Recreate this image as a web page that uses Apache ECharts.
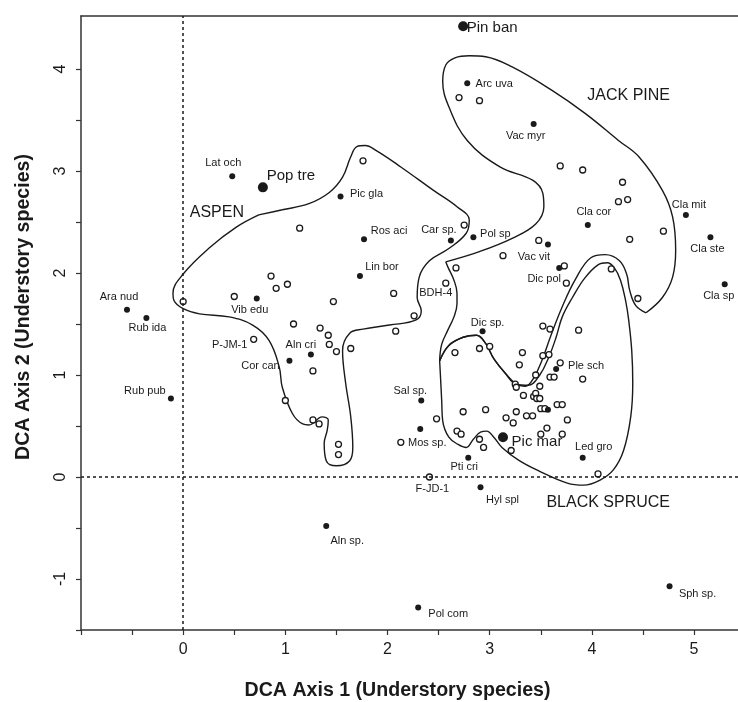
<!DOCTYPE html>
<html><head><meta charset="utf-8">
<script src="https://cdn.jsdelivr.net/npm/echarts@6/dist/echarts.min.js"></script>
<style>html,body{margin:0;padding:0;background:#fff}#c{width:738px;height:702px}</style>
</head><body><div id="c"></div>
<script>
// ---------- data ----------
const treeSpecies = [
  [2.74, 4.42, 'Pin ban'],
  [0.78, 2.84, 'Pop tre'],
  [3.13, 0.39, 'Pic mar']
];
const understorySpecies = [
  [-0.55, 1.64, 'Ara nud'], [-0.36, 1.56, 'Rub ida'], [-0.12, 0.77, 'Rub pub'],
  [0.48, 2.95, 'Lat och'], [0.72, 1.75, 'Vib edu'], [1.04, 1.14, 'Cor can'],
  [1.25, 1.20, 'Aln cri'], [1.40, -0.48, 'Aln sp.'], [1.54, 2.75, 'Pic gla'],
  [1.77, 2.33, 'Ros aci'], [1.73, 1.97, 'Lin bor'], [2.62, 2.32, 'Car sp.'],
  [2.84, 2.35, 'Pol sp'], [2.78, 3.86, 'Arc uva'], [3.43, 3.46, 'Vac myr'],
  [3.57, 2.28, 'Vac vit'], [3.68, 2.05, 'Dic pol'], [2.93, 1.43, 'Dic sp.'],
  [2.33, 0.75, 'Sal sp.'], [2.32, 0.47, 'Mos sp.'], [2.79, 0.19, 'Pti cri'],
  [2.91, -0.10, 'Hyl spl'], [2.30, -1.28, 'Pol com'], [4.76, -1.07, 'Sph sp.'],
  [3.65, 1.06, 'Ple sch'], [3.91, 0.19, 'Led gro'], [3.96, 2.47, 'Cla cor'],
  [4.92, 2.57, 'Cla mit'], [5.16, 2.35, 'Cla ste'], [5.30, 1.89, 'Cla sp'],
  [3.57, 0.66, '']
];
const labelledSites = [
  [0.69, 1.35, 'P-JM-1'], [2.57, 1.90, 'BDH-4'], [2.41, 0.00, 'F-JD-1']
];
const sites = [
  [0.00,1.72],[1.14,2.44],[0.86,1.97],[0.91,1.85],[1.02,1.89],[0.50,1.77],[1.47,1.72],[1.76,3.10],
  [1.08,1.50],[1.34,1.46],[1.42,1.39],[1.43,1.30],[1.50,1.23],[1.64,1.26],[1.27,1.04],[1.00,0.75],
  [1.27,0.56],[1.33,0.52],[1.52,0.32],[1.52,0.22],
  [2.75,2.47],[3.48,2.32],[3.13,2.17],[2.67,2.05],[3.73,2.07],[3.75,1.90],[2.06,1.80],[2.26,1.58],[2.08,1.43],
  [3.52,1.48],[3.59,1.45],[3.87,1.44],[2.66,1.22],[2.90,1.26],[3.00,1.28],[3.32,1.22],[3.52,1.19],[3.58,1.20],
  [3.69,1.12],[3.29,1.10],[3.45,1.00],[3.59,0.98],[3.63,0.98],[3.91,0.96],[3.25,0.91],[3.26,0.88],[3.49,0.89],
  [3.33,0.80],[3.43,0.79],[3.45,0.82],[3.46,0.77],[3.49,0.77],[3.66,0.71],[3.71,0.71],[2.48,0.57],[2.74,0.64],
  [2.96,0.66],[3.26,0.64],[3.16,0.58],[3.23,0.53],[3.36,0.60],[3.42,0.60],[3.50,0.67],[3.54,0.67],[2.68,0.45],
  [2.72,0.42],[2.90,0.37],[2.94,0.29],[3.56,0.48],[3.50,0.42],[3.71,0.42],[3.76,0.56],[3.21,0.26],[4.06,0.03],
  [2.13,0.34],
  [2.70,3.72],[2.90,3.69],[3.69,3.05],[3.91,3.01],[4.30,2.89],[4.26,2.70],[4.35,2.72],[4.37,2.33],[4.70,2.41],
  [4.19,2.04],[4.45,1.75]
];
const aspenHull = [[
  [0.74,2.57],[0.97,2.62],[1.23,2.68],[1.43,2.79],[1.56,2.94],[1.64,3.14],[1.70,3.24],[1.78,3.25],[1.89,3.20],
  [2.13,3.04],[2.45,2.81],[2.68,2.65],[2.80,2.52],[2.77,2.39],[2.60,2.24],[2.41,2.12],[2.31,1.96],[2.29,1.76],
  [2.33,1.63],[2.28,1.54],[2.02,1.49],[1.76,1.45],[1.63,1.41],[1.56,1.24],[1.59,0.92],[1.64,0.59],[1.66,0.29],
  [1.63,0.16],[1.50,0.11],[1.40,0.16],[1.38,0.33],[1.41,0.46],[1.42,0.56],[1.36,0.59],[1.23,0.51],[1.17,0.52],
  [1.07,0.62],[0.97,0.88],[0.94,1.08],[0.84,1.34],[0.68,1.49],[0.45,1.57],[0.16,1.60],[0.00,1.65],[-0.09,1.73],
  [-0.10,1.80],[0.00,1.99],[0.26,2.25],[0.52,2.45],[0.74,2.57]
]];
const jackPineHull = [
  [[2.57,2.11],[2.90,2.21],[3.22,2.34],[3.45,2.48],[3.53,2.65],[3.52,2.78],[3.42,2.91],[3.10,3.04],[2.78,3.30],
   [2.60,3.63],[2.54,3.88],[2.57,4.04],[2.66,4.11],[2.80,4.13],[2.96,4.12],[3.22,4.02],[3.61,3.79],[3.94,3.56],
   [4.26,3.30],[4.46,3.14],[4.69,2.81],[4.79,2.55],[4.82,2.22],[4.79,1.96],[4.69,1.76],[4.53,1.61]],
  [[4.53,1.61],[4.43,1.68],[4.37,1.83],[4.34,1.99],[4.27,2.12],[4.13,2.18],[3.99,2.15],[3.84,1.94],[3.71,1.67],
   [3.60,1.39],[3.51,1.14],[3.43,0.97],[3.35,0.89],[3.26,0.91],[3.15,1.02],[3.04,1.16],[2.96,1.31],[2.87,1.39],
   [2.74,1.37],[2.60,1.29],[2.51,1.14]],
  [[2.51,1.14],[2.53,1.30],[2.59,1.44],[2.65,1.57],[2.68,1.70],[2.68,1.80],[2.65,1.93],[2.59,2.06],[2.57,2.11]]
];
const blackSpruceHull = [[
  [2.51,1.14],[2.52,0.95],[2.53,0.75],[2.54,0.55],[2.60,0.39],[2.69,0.32],[2.77,0.29],[2.84,0.37],[2.91,0.44],
  [2.97,0.45],[3.04,0.39],[3.12,0.29],[3.29,0.16],[3.48,0.06],[3.76,-0.06],[3.92,-0.08],[4.08,-0.03],[4.21,0.07],
  [4.31,0.26],[4.38,0.59],[4.40,0.92],[4.39,1.24],[4.36,1.54],[4.33,1.73],[4.28,1.93],[4.22,2.05],[4.15,2.10],
  [4.06,2.08],[3.93,1.95],[3.81,1.76],[3.71,1.57],[3.65,1.37],[3.58,1.18],[3.49,1.00],[3.38,0.90],[3.26,0.91],
  [3.15,1.02],[3.04,1.16],[2.96,1.31],[2.87,1.39],[2.74,1.37],[2.60,1.29],[2.51,1.14]
]];
const groupLabels = [
  [0.33, 2.59, 'ASPEN'], [4.36, 3.74, 'JACK PINE'], [4.16, -0.25, 'BLACK SPRUCE']
];
const xTickLabels = [0, 1, 2, 3, 4, 5];
const yTickLabels = [-1, 0, 1, 2, 3, 4];
const xTickMarks = [-1, -0.5, 0, 0.5, 1, 1.5, 2, 2.5, 3, 3.5, 4, 4.5, 5];
const yTickMarks = [-1.5, -1, -0.5, 0, 0.5, 1, 1.5, 2, 2.5, 3, 3.5, 4];
const xTitle = 'DCA Axis 1 (Understory species)';
const yTitle = 'DCA Axis 2 (Understory species)';

// ---------- label placement (style, px offsets of text centre from point) ----------
const labelOffset = {
  'Pin ban':[29,2],'Pop tre':[28,-11],'Pic mar':[34,5],
  'Ara nud':[-8,-13],'Rub ida':[1,10],'Rub pub':[-26,-8],'Lat och':[-9,-13],'Vib edu':[-7,11],
  'Cor can':[-29,5],'Aln cri':[-10,-10],'Aln sp.':[21,15],'Pic gla':[26,-3],'Ros aci':[25,-8],
  'Lin bor':[22,-9],'Car sp.':[-12,-10],'Pol sp':[22,-3],'Arc uva':[27,1],'Vac myr':[-8,12],
  'Vac vit':[-14,13],'Dic pol':[-15,11],'Dic sp.':[5,-8],'Sal sp.':[-11,-10],'Mos sp.':[7,14],
  'Pti cri':[-4,9],'Hyl spl':[22,13],'Pol com':[30,6],'Sph sp.':[28,8],'Ple sch':[30,-3],
  'Led gro':[11,-11],'Cla cor':[6,-13],'Cla mit':[3,-10],'Cla ste':[-3,12],'Cla sp':[-6,12],
  'P-JM-1':[-24,6],'BDH-4':[-10,10],'F-JD-1':[3,12]
};
const FONT = '"Liberation Sans", Arial, Helvetica, sans-serif';
const INK = '#1a1a1a';

function pts(list, fontSize) {
  return list.map(d => ({
    value: [d[0], d[1]],
    name: d[2] || '',
    label: {
      show: !!d[2], formatter: d[2] || '', position: 'inside',
      offset: labelOffset[d[2]] || [0, 0], fontSize: fontSize,
      color: INK, fontFamily: FONT, textBorderWidth: 0
    }
  }));
}

const series = [];
function addHull(segments, name) {
  segments.forEach((seg, i) => {
    series.push({
      type: 'line', name: name + i, data: seg, smooth: 0.4, symbol: 'none',
      lineStyle: { color: INK, width: 1.4 }, z: 2, silent: true, clip: true
    });
  });
}
addHull(aspenHull, 'aspen');
addHull(jackPineHull, 'jack');
addHull(blackSpruceHull, 'spruce');

const hollowStyle = { color: '#fff', borderColor: INK, borderWidth: 1.3, opacity: 1 };
series.push({
  type: 'scatter', name: 'sites', z: 3,
  data: sites.map(d => [d[0], d[1]]),
  symbol: 'circle', symbolSize: 6,
  itemStyle: hollowStyle,
  markLine: {
    silent: true, symbol: ['none', 'none'], animation: false,
    lineStyle: { color: INK, width: 1.5, type: [3, 3], opacity: 1 },
    label: { show: false },
    data: [{ xAxis: 0 }, { yAxis: 0 }]
  }
});
series.push({
  type: 'scatter', name: 'labelled sites', z: 3,
  data: pts(labelledSites, 11), symbol: 'circle', symbolSize: 6,
  itemStyle: hollowStyle
});
series.push({
  type: 'scatter', name: 'species', z: 4,
  data: pts(understorySpecies, 11), symbol: 'circle', symbolSize: 6,
  itemStyle: { color: INK, opacity: 1 }
});
series.push({
  type: 'scatter', name: 'trees', z: 4,
  data: pts(treeSpecies, 15), symbol: 'circle', symbolSize: 10,
  itemStyle: { color: INK, opacity: 1 }
});
series.push({
  type: 'scatter', name: 'groups', z: 4, symbolSize: 0,
  itemStyle: { color: INK, opacity: 1 },
  data: groupLabels.map(d => ({
    value: [d[0], d[1]],
    label: { show: true, formatter: d[2], position: 'inside', fontSize: 16, color: INK, fontFamily: FONT, textBorderWidth: 0 }
  }))
});

const axisLineStyle = { color: '#333', width: 1.5 };
const option = {
  animation: false,
  backgroundColor: '#fff',
  grid: { left: 81, right: 0, top: 16, bottom: 72, containLabel: false, outerBoundsMode: 'none' },
  xAxis: [{
    type: 'value', min: -1, max: 5.43, position: 'bottom',
    axisLine: { show: true, onZero: false, lineStyle: axisLineStyle },
    axisTick: { show: true, customValues: xTickMarks, length: 5, lineStyle: { color: '#333', width: 1.2 } },
    axisLabel: { customValues: xTickLabels, fontSize: 16, color: INK, margin: 12, fontFamily: FONT },
    splitLine: { show: false },
    name: xTitle, nameLocation: 'middle', nameGap: 51,
    nameTextStyle: { fontSize: 19.6, fontWeight: 'bold', color: INK, fontFamily: FONT, padding: [0, 24, 0, 0] }
  }, {
    type: 'value', min: -1, max: 5.43, position: 'top',
    axisLine: { show: true, onZero: false, lineStyle: axisLineStyle },
    axisTick: { show: false }, axisLabel: { show: false }, splitLine: { show: false }
  }],
  yAxis: {
    type: 'value', min: -1.5, max: 4.52,
    axisLine: { show: true, onZero: false, lineStyle: axisLineStyle },
    axisTick: { show: true, customValues: yTickMarks, length: 5, lineStyle: { color: '#333', width: 1.2 } },
    axisLabel: { customValues: yTickLabels, rotate: 90, fontSize: 16, color: INK, margin: 12, fontFamily: FONT },
    splitLine: { show: false },
    name: yTitle, nameLocation: 'middle', nameGap: 47,
    nameTextStyle: { fontSize: 19.6, fontWeight: 'bold', color: INK, fontFamily: FONT, padding: [0, 0, 0, 32] }
  },
  series: series
};
const chart = echarts.init(document.getElementById('c'), null, { renderer: 'canvas' });
chart.setOption(option);
</script>
</body></html>
